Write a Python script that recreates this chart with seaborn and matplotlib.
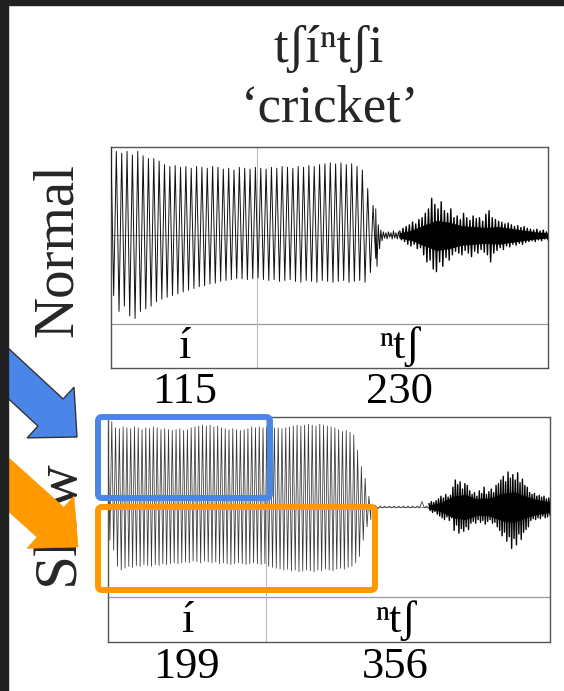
import numpy as np
import pandas as pd
import matplotlib
matplotlib.use("Agg")
import matplotlib.pyplot as plt
from matplotlib.patches import FancyArrow, FancyBboxPatch, Rectangle
from matplotlib.transforms import IdentityTransform, blended_transform_factory
import seaborn as sns

# ---- data (durations in ms, amplitudes relative) ----
word = "tʃíⁿtʃi"
gloss = "\u2018cricket\u2019"
segments = ["í", "ⁿtʃ"]

normal_durations = [115, 230]
slow_durations = [199, 356]
normal_label_ms = [58, 228]
slow_label_ms = [99, 361]

# Normal: vowel 0-209 ms, one peak/trough per cycle
normal_vowel_up = [0.99, 0.95, 0.93, 0.95, 0.91, 0.95, 0.90, 0.87, 0.87, 0.84,
                   0.80, 0.78, 0.79, 0.77, 0.78, 0.76, 0.78, 0.77, 0.76, 0.78,
                   0.77, 0.75, 0.76, 0.74, 0.77, 0.76, 0.75, 0.77, 0.76, 0.75,
                   0.77, 0.76, 0.78, 0.77, 0.76, 0.78, 0.77, 0.79, 0.78, 0.80,
                   0.81, 0.82, 0.81, 0.82, 0.80, 0.81, 0.78, 0.74, 0.53, 0.34]
normal_vowel_lo = [-0.68, -0.86, -0.80, -0.91, -0.94, -0.86, -0.83, -0.80, -0.75, -0.72,
                   -0.70, -0.68, -0.66, -0.64, -0.62, -0.60, -0.58, -0.57, -0.55, -0.54,
                   -0.52, -0.51, -0.50, -0.49, -0.49, -0.50, -0.49, -0.48, -0.50, -0.51,
                   -0.50, -0.52, -0.51, -0.50, -0.52, -0.53, -0.51, -0.52, -0.53, -0.51,
                   -0.52, -0.53, -0.52, -0.51, -0.53, -0.52, -0.51, -0.53, -0.42, -0.26]
# Normal: ringing + near silence 209-228 ms
normal_gap_up = [0.30, 0.12, 0.06, 0.04, 0.03, 0.04, 0.03, 0.05, 0.03, 0.04]
normal_gap_lo = [-0.35, -0.15, -0.06, -0.03, -0.04, -0.02, -0.04, -0.03, -0.04, -0.03]
# Normal: frication noise 228-345 ms (spike tips + solid core)
normal_noise_up = [0.05, 0.08, 0.10, 0.12, 0.15, 0.13, 0.18,
                   0.20, 0.25, 0.30, 0.42, 0.35, 0.30, 0.38, 0.28, 0.25, 0.30,
                   0.20, 0.22, 0.18, 0.25, 0.20, 0.17, 0.22, 0.19, 0.20, 0.16, 0.24, 0.28, 0.20, 0.18,
                   0.16, 0.15, 0.13, 0.14, 0.12, 0.10, 0.11, 0.09, 0.10, 0.08, 0.07, 0.06, 0.07, 0.05, 0.06, 0.04]
normal_noise_lo = [-0.05, -0.07, -0.10, -0.12, -0.10, -0.15, -0.14,
                   -0.22, -0.30, -0.28, -0.38, -0.41, -0.30, -0.35, -0.25, -0.28, -0.22,
                   -0.18, -0.20, -0.22, -0.17, -0.20, -0.24, -0.18, -0.20, -0.16, -0.19, -0.22, -0.30, -0.20, -0.17,
                   -0.14, -0.16, -0.12, -0.13, -0.10, -0.11, -0.09, -0.10, -0.08, -0.07, -0.06, -0.07, -0.05, -0.06, -0.04, -0.05]
normal_noise_core = [0.03, 0.06, 0.12, 0.17, 0.15, 0.11, 0.10, 0.09, 0.10, 0.08, 0.06, 0.04, 0.03]

# Slow: vowel 0-330 ms
slow_vowel_up = [0.85, 0.95, 0.88, 0.87, 0.89, 0.88, 0.87, 0.89, 0.88, 0.86,
                 0.88, 0.87, 0.89, 0.88, 0.86, 0.87, 0.86, 0.85, 0.86, 0.87,
                 0.85, 0.86, 0.88, 0.89, 0.90, 0.91, 0.90, 0.91, 0.89, 0.90,
                 0.88, 0.87, 0.86, 0.87, 0.86, 0.85, 0.86, 0.87, 0.89, 0.88,
                 0.89, 0.88, 0.89, 0.87, 0.88, 0.88, 0.87, 0.88, 0.89, 0.90,
                 0.91, 0.90, 0.91, 0.92, 0.91, 0.90, 0.92, 0.91, 0.90, 0.89,
                 0.88, 0.86, 0.84, 0.85, 0.83, 0.80, 0.63, 0.45, 0.32, 0.12]
slow_vowel_lo = [-0.37, -0.48, -0.66, -0.70, -0.68, -0.66, -0.67, -0.65, -0.66, -0.64,
                 -0.65, -0.66, -0.64, -0.65, -0.63, -0.64, -0.63, -0.62, -0.63, -0.62,
                 -0.61, -0.62, -0.60, -0.61, -0.62, -0.60, -0.61, -0.62, -0.61, -0.63,
                 -0.62, -0.63, -0.64, -0.63, -0.62, -0.63, -0.64, -0.63, -0.62, -0.63,
                 -0.64, -0.63, -0.66, -0.67, -0.68, -0.69, -0.70, -0.69, -0.71, -0.70,
                 -0.72, -0.71, -0.70, -0.71, -0.72, -0.70, -0.71, -0.69, -0.70, -0.71,
                 -0.69, -0.68, -0.69, -0.67, -0.66, -0.62, -0.55, -0.37, -0.22, -0.14]
# Slow: closure silence 330-403 ms
slow_gap_up = [0.03, 0.02, 0.01, 0.01, 0.01, 0.01, 0.01, 0.01, 0.01, 0.01, 0.01, 0.06, 0.01]
slow_gap_lo = [-0.04, -0.02, -0.01, -0.01, -0.01, -0.01, -0.01, -0.01, -0.01, -0.01, -0.01, -0.01, -0.02]
# Slow: frication noise 403-555 ms
slow_noise_up = [0.04, 0.06, 0.05, 0.07,
                 0.09, 0.12, 0.10, 0.14, 0.11, 0.13,
                 0.22, 0.30, 0.25, 0.28, 0.20, 0.26, 0.24, 0.18,
                 0.14, 0.16, 0.12, 0.18, 0.15, 0.22, 0.14, 0.17, 0.20, 0.16, 0.24,
                 0.26, 0.30, 0.34, 0.28, 0.39, 0.32, 0.36, 0.30, 0.38, 0.27, 0.31, 0.24, 0.22,
                 0.16, 0.14, 0.15, 0.12, 0.13, 0.11, 0.12, 0.09, 0.10]
slow_noise_lo = [-0.04, -0.06, -0.05, -0.08,
                 -0.10, -0.12, -0.14, -0.11, -0.15, -0.12,
                 -0.26, -0.20, -0.29, -0.24, -0.27, -0.22, -0.25, -0.18,
                 -0.16, -0.18, -0.14, -0.17, -0.15, -0.19, -0.16, -0.14, -0.18, -0.17, -0.22,
                 -0.26, -0.32, -0.28, -0.38, -0.33, -0.46, -0.35, -0.42, -0.30, -0.36, -0.28, -0.25, -0.22,
                 -0.15, -0.13, -0.14, -0.12, -0.13, -0.10, -0.12, -0.11, -0.09]
slow_noise_core = [0.02, 0.05, 0.12, 0.14, 0.09, 0.10, 0.15, 0.17, 0.12, 0.08, 0.06]

normal_parts = [(0, 209, normal_vowel_up, normal_vowel_lo, None),
                (209, 228, normal_gap_up, normal_gap_lo, None),
                (228, 345, normal_noise_up, normal_noise_lo, normal_noise_core)]
slow_parts = [(0, 330, slow_vowel_up, slow_vowel_lo, None),
              (330, 403, slow_gap_up, slow_gap_lo, None),
              (403, 555, slow_noise_up, slow_noise_lo, slow_noise_core)]

W, H = 564, 691
SERIF = ["Liberation Serif", "DejaVu Serif"]


def px_rect(left, top, right, bottom):
    """pixel box (y down) -> figure fraction rect"""
    return [left / W, 1 - bottom / H, (right - left) / W, (bottom - top) / H]


def zigzag(start, end, upper, lower):
    amp = np.ravel(np.column_stack([upper, lower]))
    t = np.linspace(start, end, len(amp))
    return t, amp


def draw_panel(ax, parts, durations, label_ms, wave_color, lw):
    frames = []
    for start, end, up, lo, core in parts:
        t, a = zigzag(start, end, up, lo)
        frames.append(pd.DataFrame({"ms": t, "amp": a, "noise": core is not None}))
        if core is not None:
            tc = np.linspace(start, end, len(core))
            core = np.asarray(core)
            ax.fill_between(tc, -core, core, color="black", lw=0, zorder=2)
    wave = pd.concat(frames, ignore_index=True)
    ax.axhline(0, color="#888888", lw=0.6, zorder=1)
    voiced = wave[~wave["noise"]]
    noise = wave[wave["noise"]]
    sns.lineplot(data=voiced, x="ms", y="amp", sort=False, estimator=None,
                 color=wave_color, lw=lw, ax=ax, zorder=3)
    sns.lineplot(data=noise, x="ms", y="amp", sort=False, estimator=None,
                 color="black", lw=1.0, ax=ax, zorder=3)

    total = sum(durations)
    ax.set_xlim(0, total)
    ax.set_ylim(-1.5, 1.0)
    ax.axhline(-1.0, color="#999999", lw=0.9, zorder=1)
    ax.axvline(durations[0], color="#bbbbbb", lw=0.8, zorder=1)
    ax.set_xticks([])
    ax.set_yticks([])
    ax.set_xlabel("")
    ax.set_ylabel("")
    for sp in ax.spines.values():
        sp.set_color("#555555")
        sp.set_linewidth(1.0)

    trans = blended_transform_factory(ax.transData, ax.transAxes)
    for seg, x, d in zip(segments, label_ms, durations):
        ax.text(x, 0.045, seg, transform=trans, ha="center", va="baseline",
                fontsize=32, family=SERIF, color="black")
        ax.text(x, -0.02, str(d), transform=trans, ha="center", va="top",
                fontsize=32, family=SERIF, color="black")


sns.set_theme(style="white")
plt.rcParams["font.family"] = SERIF

fig = plt.figure(figsize=(W / 100, H / 100), dpi=100)
fig.patch.set_facecolor("white")

ax_normal = fig.add_axes(px_rect(111, 147, 548, 368))
ax_slow = fig.add_axes(px_rect(108, 417, 550, 642))
draw_panel(ax_normal, normal_parts, normal_durations, normal_label_ms, "#111111", 0.7)
draw_panel(ax_slow, slow_parts, slow_durations, slow_label_ms, "#333333", 0.55)

# titles
fig.text(329 / W, 1 - 62 / H, word, ha="center", va="baseline", fontsize=38,
         family=SERIF, zorder=2)
fig.text(330 / W, 1 - 122 / H, gloss, ha="center", va="baseline", fontsize=38,
         family=SERIF, zorder=2)
fig.text(58 / W, 1 - 250 / H, "Normal", rotation=90, ha="center", va="center",
         fontsize=41, family=SERIF, zorder=2)
fig.text(58 / W, 1 - 522 / H, "Slow", rotation=90, ha="center", va="center",
         fontsize=44, family=SERIF, zorder=2)

# highlight boxes (pixel coordinates, y up)
px = IdentityTransform()
blue = "#4a86e8"
orange = "#ff9900"
fig.add_artist(FancyBboxPatch((98, H - 498), 172, 81, boxstyle="round,pad=0,rounding_size=4",
                              fill=False, ec=blue, lw=4.3, transform=px, zorder=6))
fig.add_artist(FancyBboxPatch((98, H - 590), 277, 83, boxstyle="round,pad=0,rounding_size=4",
                              fill=False, ec=orange, lw=4.3, transform=px, zorder=6))

# arrows
fig.add_artist(FancyArrow(-30, H - 338, 107, -99, width=37, head_width=69, head_length=36,
                          length_includes_head=True, fc=blue, ec="#333333", lw=1.0,
                          transform=px, zorder=7))
fig.add_artist(FancyArrow(-30, H - 450, 108, -97, width=40, head_width=70, head_length=37,
                          length_includes_head=True, fc=orange, ec=orange, lw=0.5,
                          transform=px, zorder=7))

# dark slide edges
fig.add_artist(Rectangle((0, 0), 8, H, color="#212121", transform=px, zorder=10))
fig.add_artist(Rectangle((0, H - 5), W, 5, color="#212121", transform=px, zorder=10))

fig.savefig("out.png", dpi=100, facecolor="white")
